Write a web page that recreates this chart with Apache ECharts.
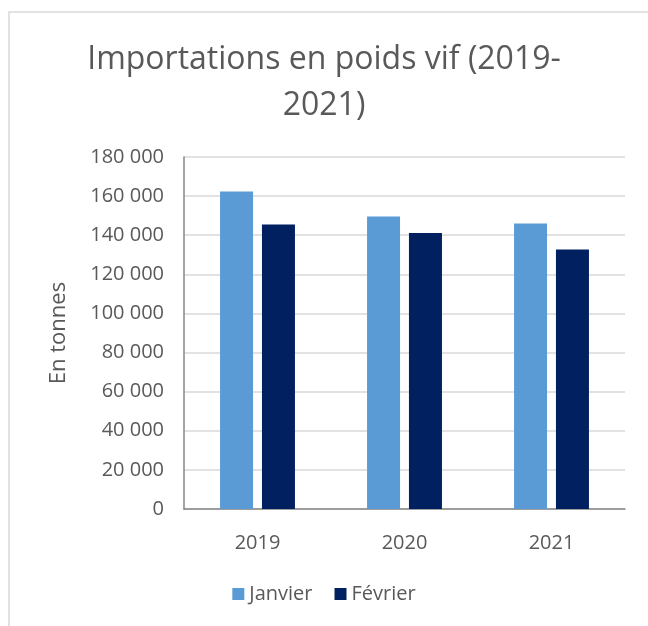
<!DOCTYPE html>
<html>
<head>
<meta charset="utf-8">
<script src="https://cdn.jsdelivr.net/npm/echarts@6/dist/echarts.min.js"></script>
<style>
  html, body { margin: 0; padding: 0; background: #fff; }
  #main { width: 648px; height: 626px; }
</style>
</head>
<body>
<div id="main"></div>
<script>
var years = ["2019", "2020", "2021"];
var janvier = [162400, 149600, 146000];
var fevrier = [145500, 141100, 132700];
var yTicks = [0, 20000, 40000, 60000, 80000, 100000, 120000, 140000, 160000, 180000];

function fmtSpace(v) {
	return String(v).replace(/\B(?=(\d{3})+(?!\d))/g, " ");
}

var chart = echarts.init(document.getElementById("main"));
var font = "Open Sans";
var option = {
	backgroundColor: "#fff",
	animation: false,
	graphic: [{
		type: "rect",
		shape: { x: 9, y: 12, width: 700, height: 700 },
		style: { fill: "none", stroke: "#d9d9d9", lineWidth: 1.5 }
	}],
	title: {
		text: "Importations en poids vif (2019-\n2021)",
		left: "center",
		top: 32,
		textStyle: { fontFamily: font, fontSize: 32, fontWeight: "normal", color: "#595959", lineHeight: 46 }
	},
	legend: {
		data: ["Janvier", "Février"],
		bottom: 17,
		left: "center",
		itemWidth: 12,
		itemHeight: 12,
		itemGap: 22,
		icon: "rect",
		textStyle: { fontFamily: font, fontSize: 20, color: "#595959" }
	},
	grid: { left: 184, right: 23, top: 157, bottom: 117 },
	xAxis: {
		type: "category",
		data: years,
		axisLine: { lineStyle: { color: "#868686", width: 1.5 } },
		axisTick: { show: false },
		axisLabel: { fontFamily: font, fontSize: 20, color: "#595959", margin: 24 }
	},
	yAxis: {
		type: "value",
		min: yTicks[0],
		max: yTicks[yTicks.length - 1],
		interval: yTicks[1] - yTicks[0],
		name: "En tonnes",
		nameLocation: "middle",
		nameGap: 114,
		nameTextStyle: { fontFamily: font, fontSize: 22, color: "#595959" },
		axisLine: { show: true, lineStyle: { color: "#868686", width: 1.5 } },
		axisTick: { show: false },
		splitLine: { lineStyle: { color: "#d9d9d9", width: 1.5 } },
		axisLabel: { fontFamily: font, fontSize: 20, color: "#595959", margin: 20, formatter: fmtSpace }
	},
	series: [{
		name: "Janvier",
		type: "bar",
		data: janvier,
		barWidth: 33,
		barGap: "27%",
		itemStyle: { color: "#5b9bd5" }
	}, {
		name: "Février",
		type: "bar",
		data: fevrier,
		barWidth: 33,
		itemStyle: { color: "#002060" }
	}]
};
chart.setOption(option);
</script>
</body>
</html>
